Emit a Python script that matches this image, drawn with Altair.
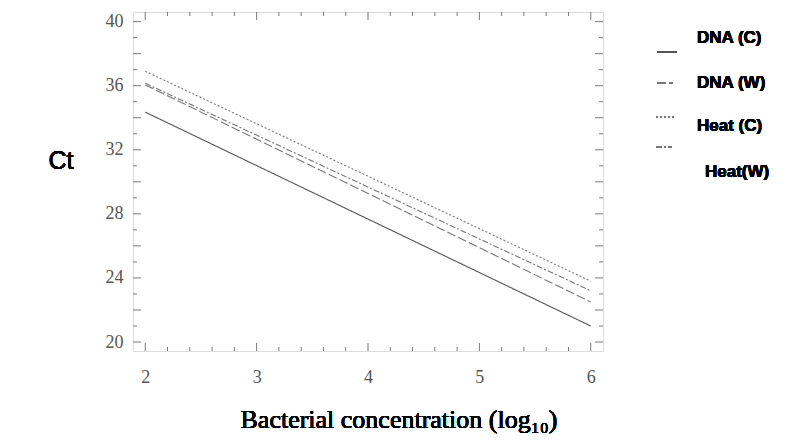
import altair as alt
import pandas as pd

# ---- data ----
series = ["DNA (C)", "DNA (W)", "Heat (C)", "Heat(W)"]
x_start = [2, 2, 2, 2]
x_end = [6, 6, 6, 6]
ct_start = [34.35, 36.05, 36.9, 36.15]
ct_end = [21.0, 22.5, 23.8, 23.2]

x_labels = [2, 3, 4, 5, 6]
y_labels = [20, 24, 28, 32, 36, 40]
x_major_ticks = [2, 3, 4, 5, 6]
x_minor_ticks = [2.2, 2.4, 2.6, 2.8, 3.2, 3.4, 3.6, 3.8, 4.2, 4.4, 4.6, 4.8,
                 5.2, 5.4, 5.6, 5.8]
y_major_ticks = [20, 22, 24, 26, 28, 30, 32, 34, 36, 38, 40]
y_minor_ticks = [21, 23, 25, 27, 29, 31, 33, 35, 37, 39]

W, H = 470, 339
dashes = [[1, 0], [9, 3], [2, 2], [6, 2, 2, 2]]
colors = ["#555555", "#777777", "#777777", "#777777"]

rows = []
for s, xa, xb, ya, yb in zip(series, x_start, x_end, ct_start, ct_end):
    rows.append({"series": s, "x": xa, "ct": ya})
    rows.append({"series": s, "x": xb, "ct": yb})
lines_df = pd.DataFrame(rows)

xs = alt.Scale(domain=[1.89, 6.11], nice=False, zero=False)
ys = alt.Scale(domain=[19.44, 40.6], nice=False, zero=False)

serif = "Liberation Serif"
sans = "Liberation Sans, Arial, sans-serif"

lines = alt.Chart(lines_df).mark_line(strokeWidth=1.1).encode(
    x=alt.X("x:Q", scale=xs,
            axis=alt.Axis(values=x_labels, format="d", ticks=False, domain=False, grid=False,
                          labelFont=serif, labelFontSize=18, labelColor="#555555",
                          labelPadding=17, title=None)),
    y=alt.Y("ct:Q", scale=ys,
            axis=alt.Axis(values=y_labels, format="d", ticks=False, domain=False, grid=False,
                          labelFont=serif, labelFontSize=18, labelColor="#555555",
                          labelPadding=10, title=None)),
    color=alt.Color("series:N", scale=alt.Scale(domain=series, range=colors), legend=None),
    strokeDash=alt.StrokeDash("series:N", scale=alt.Scale(domain=series, range=dashes), legend=None),
    detail="series:N",
)

tick_color = "#777777"


def xticks(vals, length):
    df = pd.DataFrame({"t": vals})
    bot = alt.Chart(df).mark_rule(color=tick_color, strokeWidth=1).encode(
        x=alt.X("t:Q", scale=xs), y=alt.value(H), y2=alt.value(H - length))
    top = alt.Chart(df).mark_rule(color=tick_color, strokeWidth=1).encode(
        x=alt.X("t:Q", scale=xs), y=alt.value(0), y2=alt.value(length))
    return [bot, top]


def yticks(vals, length):
    df = pd.DataFrame({"t": vals})
    left = alt.Chart(df).mark_rule(color=tick_color, strokeWidth=1).encode(
        y=alt.Y("t:Q", scale=ys), x=alt.value(0), x2=alt.value(length))
    right = alt.Chart(df).mark_rule(color=tick_color, strokeWidth=1).encode(
        y=alt.Y("t:Q", scale=ys), x=alt.value(W), x2=alt.value(W - length))
    return [left, right]


tick_layers = (xticks(x_major_ticks, 8) + xticks(x_minor_ticks, 4)
               + yticks(y_major_ticks, 8) + yticks(y_minor_ticks, 4))

# ---- legend (custom, as in the reference) ----
leg_line_x = [(524, 544), (524, 540), (523, 543), (523, 539)]
leg_line_y = [40, 71, 105, 135]
leg_text_x = [564, 564, 564, 572]
leg_text_y = [26, 71, 114, 160]

legend_layers = []
for i, s in enumerate(series):
    legend_layers.append(
        alt.Chart(lines_df).mark_rule(color=colors[i], strokeWidth=1.3, strokeDash=dashes[i]).encode(
            x=alt.value(leg_line_x[i][0]), x2=alt.value(leg_line_x[i][1]), y=alt.value(leg_line_y[i]))
    )
    legend_layers.append(
        alt.Chart(lines_df).mark_text(align="left", baseline="middle", font=sans,
                                      fontWeight="bold", fontSize=17, color="black").encode(
            x=alt.value(leg_text_x[i]), y=alt.value(leg_text_y[i]), text=alt.value(s))
    )

ct_title = alt.Chart(lines_df).mark_text(align="center", baseline="middle", font=sans,
                                         fontSize=25, color="black").encode(
    x=alt.value(-72), y=alt.value(149), text=alt.value("Ct"))

x_title = alt.Chart(lines_df).mark_text(align="center", baseline="middle", font=serif,
                                        fontSize=26, color="black").encode(
    x=alt.value(266), y=alt.value(408), text=alt.value("Bacterial concentration (log₁₀)"))

chart = alt.layer(lines, *tick_layers, *legend_layers, ct_title, x_title).properties(
    width=W, height=H,
    autosize=alt.AutoSizeParams(type="none"),
    padding={"left": 125, "top": 4, "right": 189, "bottom": 89},
).configure_view(stroke="#888888", strokeWidth=1.2).configure(background="white")

chart.save("out.html", embed_options={"renderer": "svg", "actions": False})
